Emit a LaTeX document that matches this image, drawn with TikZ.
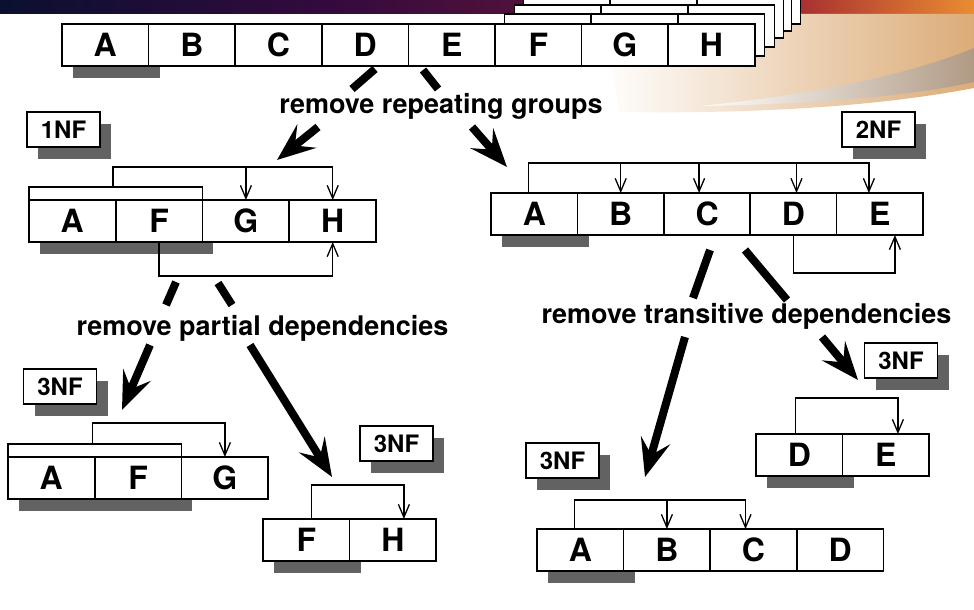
\documentclass[tikz,border=0pt]{standalone}
\usepackage{fontspec}
\setmainfont{TeX Gyre Heros}
\usetikzlibrary{arrows.meta}

\definecolor{shadowgray}{RGB}{98,98,98}
\definecolor{bannernavy}{RGB}{10,16,48}
\definecolor{bannerpurple}{RGB}{52,10,62}
\definecolor{bannerwine}{RGB}{98,22,56}
\definecolor{bannerred}{RGB}{168,48,48}
\definecolor{bannerorange}{RGB}{234,140,50}
\definecolor{swooshtan}{RGB}{220,172,120}
\definecolor{swooshgray}{RGB}{176,154,132}
\pgfdeclarehorizontalshading{banner}{100bp}{color(0bp)=(bannernavy); color(25bp)=(bannernavy); color(42bp)=(bannerpurple); color(58bp)=(bannerwine); color(66bp)=(bannerred); color(75bp)=(bannerorange); color(100bp)=(bannerorange)}
\pgfdeclarelayer{backdrop}
\pgfdeclarelayer{shadow}
\pgfsetlayers{backdrop,shadow,main}

\begin{document}
\begin{tikzpicture}[
  x=1pt, y=-1pt,
  cell/.style={draw, line width=1.6pt, fill=white, minimum width=86.6pt, minimum height=42pt,
    inner sep=0pt, outer sep=0pt, text height=23pt, text depth=0pt, anchor=north west,
    font=\bfseries\fontsize{32}{32}\selectfont},
  keybar/.style={draw, line width=1.6pt, fill=white, minimum height=13pt, inner sep=0pt,
    outer sep=0pt, anchor=south west},
  nflabel/.style={draw, line width=1.4pt, fill=white, minimum width=73pt, minimum height=35pt,
    inner sep=0pt, outer sep=0pt, text height=17.2pt, text depth=0pt,
    font=\bfseries\fontsize{24}{24}\selectfont},
  dropfill/.style={fill=shadowgray},
  stepnote/.style={anchor=base, inner sep=0pt, font=\bfseries\fontsize{27}{27}\selectfont},
  dep/.style={line width=1.3pt, -{Straight Barb[length=13pt,width=11pt]}},
  bigline/.style={line width=8pt},
  bigarrow/.style={line width=8pt, -{Stealth[length=38pt,width=30pt,inset=15pt]}}
]
\useasboundingbox (0,0) rectangle (974,610);
\clip (0,0) rectangle (974,610);
\begin{pgfonlayer}{backdrop}
\fill[white] (0,0) rectangle (974,610);
\shade[shading=banner] (0,0) rectangle (974,14);
\shade[left color=white, right color=swooshtan] (600,14) -- (974,14) -- (974,88)
  .. controls (880,106) and (760,114) .. (620,112) -- cycle;
\shade[left color=white, right color=swooshgray] (974,48) .. controls (900,78) and (800,96) .. (700,106)
  .. controls (820,104) and (910,96) .. (974,82) -- cycle;
\end{pgfonlayer}

\foreach \dx/\dy in {45/-42,36/-35,28/-28,19/-19,9/-10}
  \foreach \i in {0,1,2}
    \draw[line width=1.6pt, fill=white] ({495.6+86.6*\i+\dx},{24+\dy}) rectangle ++(86.6,42);
\foreach \l [count=\i from 0] in {A,B,C,D,E,F,G,H}
  \node[cell] (top\l) at ({62+86.6*\i},24) {\l};

\node[cell] (nf1A) at (29,200) {A};
\node[cell] (nf1F) at (115.8,200) {F};
\node[cell] (nf1G) at (202.6,200) {G};
\node[cell] (nf1H) at (289.4,200) {H};
\node[keybar, minimum width=173.6pt] (nf1key) at (nf1A.north west) {};
\draw[dep] ([xshift=84pt]nf1key.north west) |- ([yshift=33pt]nf1H.north) -- (nf1H.north);
\draw[dep] ([yshift=33pt]nf1G.north) -- (nf1G.north);
\draw[dep] (nf1F.south) -- ++(0,34) -| (nf1H.south);

\node[cell] (nf2A) at (491,193) {A};
\foreach \l [count=\i from 1] in {B,C,D,E}
  \node[cell] (nf2\l) at ({491+86.4*\i},193) {\l};
\draw[dep] ([xshift=-6pt]nf2A.north) |- ([xshift=-11pt,yshift=30pt]nf2E.north) -- ([xshift=-11pt]nf2E.north);
\foreach \l/\s in {B/0,C/-8,D/3}
  \draw[dep] ([xshift=\s pt,yshift=30pt]nf2\l.north) -- ([xshift=\s pt]nf2\l.north);
\draw[dep] (nf2D.south) -- ++(0,38) -| ([xshift=15pt]nf2E.south);

\node[cell] (nfaA) at (8,457) {A};
\node[cell] (nfaF) at (94.8,457) {F};
\node[cell] (nfaG) at (181.6,457) {G};
\node[keybar, minimum width=173.6pt] (nfakey) at (nfaA.north west) {};
\draw[dep] ([xshift=-2pt]nfakey.north) |- ([yshift=34pt]nfaG.north) -- (nfaG.north);

\node[cell] (nfbF) at (263,519) {F};
\node[cell] (nfbH) at (349.6,519) {H};
\draw[dep] ([xshift=5pt]nfbF.north) |- ([xshift=11pt,yshift=34pt]nfbH.north) -- ([xshift=11pt]nfbH.north);

\node[cell] (nfcD) at (756,434) {D};
\node[cell] (nfcE) at (842.6,434) {E};
\draw[dep] ([xshift=-4pt]nfcD.north) |- ([xshift=12pt,yshift=36pt]nfcE.north) -- ([xshift=12pt]nfcE.north);

\node[cell] (nfdA) at (537,529) {A};
\foreach \l [count=\i from 1] in {B,C,D}
  \node[cell] (nfd\l) at ({537+86.6*\i},529) {\l};
\draw[dep] ([xshift=-6pt]nfdA.north) |- ([xshift=-8pt,yshift=29pt]nfdC.north) -- ([xshift=-8pt]nfdC.north);
\draw[dep] ([yshift=29pt]nfdB.north) -- (nfdB.north);

\node[nflabel] (lab1) at (63.5,129.5) {1NF};
\node[nflabel] (lab2) at (878.5,129.5) {2NF};
\node[nflabel] (lab3a) at (60,386.5) {3NF};
\node[nflabel] (lab3b) at (396.5,443.5) {3NF};
\node[nflabel] (lab3c) at (901,360.5) {3NF};
\node[nflabel] (lab3d) at (562.5,460.5) {3NF};

\begin{pgfonlayer}{shadow}
\foreach \a/\b in {topA/topA, nf1A/nf1F, nf2A/nf2A, nfaA/nfaF, nfbF/nfbF, nfcD/nfcD, nfdA/nfdA,
    lab1/lab1, lab2/lab2, lab3a/lab3a, lab3b/lab3b, lab3c/lab3c, lab3d/lab3d}
  \fill[dropfill] ([xshift=11pt,yshift=-12pt]\a.north west) rectangle ([xshift=11pt,yshift=-12pt]\b.south east);
\end{pgfonlayer}

\node[stepnote] (rep) at (441,113) {remove repeating groups};
\node[stepnote] (part) at (262.5,335) {remove partial dependencies};
\node[stepnote] (trans) at (746.5,323) {remove transitive dependencies};

\coordinate (repL1) at (375,69);  \coordinate (repL2) at (352,89);
\coordinate (repL3) at (318,127); \coordinate (repL4) at (277,160);
\coordinate (repR1) at (423,70);  \coordinate (repR2) at (438,89);
\coordinate (repR3) at (472,127); \coordinate (repR4) at (507,167);
\coordinate (partL1) at (176,282); \coordinate (partL2) at (166,305);
\coordinate (partL3) at (150,345); \coordinate (partL4) at (122,410);
\coordinate (partR1) at (218,283); \coordinate (partR2) at (232,305);
\coordinate (partR3) at (250,345); \coordinate (partR4) at (332,477);
\coordinate (transL1) at (710,250); \coordinate (transL2) at (693,298);
\coordinate (transL3) at (685,337); \coordinate (transL4) at (645,477);
\coordinate (transR1) at (745,250); \coordinate (transR2) at (787,300);
\coordinate (transR3) at (822,337); \coordinate (transR4) at (858,380);
\foreach \a in {repL,repR,partL,partR,transL,transR} {
  \draw[bigline] (\a1) -- (\a2);
  \draw[bigarrow] (\a3) -- (\a4);
}
\end{tikzpicture}
\end{document}
